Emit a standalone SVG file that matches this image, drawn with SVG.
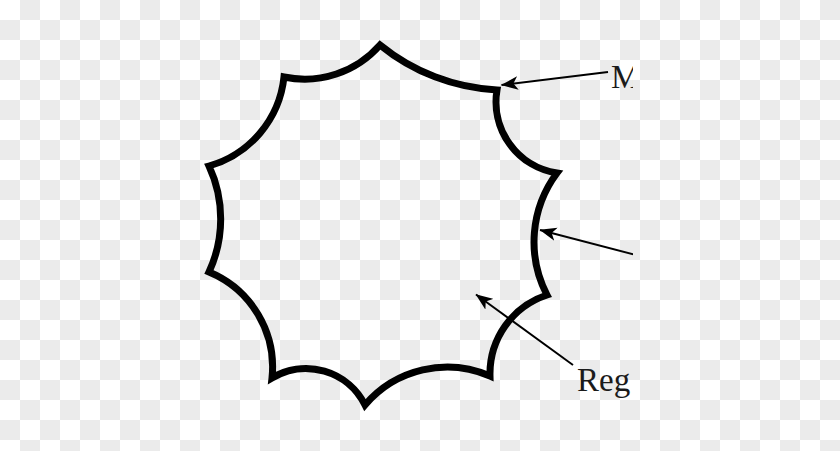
<svg xmlns="http://www.w3.org/2000/svg" width="840" height="451" viewBox="0 0 840 451">
  <defs>
    <pattern id="checker" x="0" y="0" width="40" height="40" patternUnits="userSpaceOnUse">
      <rect x="0" y="0" width="40" height="40" fill="#ffffff"/>
      <rect x="20" y="0" width="20" height="20" fill="#ebebeb"/>
      <rect x="0" y="20" width="20" height="20" fill="#ebebeb"/>
    </pattern>
    <marker id="tip" viewBox="0 0 17 14" refX="16.5" refY="7" markerWidth="17" markerHeight="14" markerUnits="userSpaceOnUse" orient="auto">
      <path d="M17,7 L0,0.3 L4.5,7 L0,13.7 Z" fill="#000"/>
    </marker>
    <clipPath id="clip">
      <rect x="0" y="0" width="633" height="451"/>
    </clipPath>
  </defs>
  <style>
    .outline { fill: none; stroke: #000; stroke-width: 7; stroke-linejoin: miter; stroke-miterlimit: 10; }
    .conn { fill: none; stroke: #000; stroke-width: 1.9; marker-end: url(#tip); }
    .label { font-family: "Liberation Serif", "DejaVu Serif", serif; font-size: 33px; fill: #1a1a1a; }
  </style>
  <rect x="0" y="0" width="840" height="451" fill="url(#checker)"/>
  <g id="region">
    <path class="outline" d="M 380 45 A 201 201 0 0 0 497 90 A 72 72 0 0 0 557 173 A 115 115 0 0 0 547 295 A 83 83 0 0 0 490 376 A 108 108 0 0 0 365 405 A 66 66 0 0 0 272 378 A 103 103 0 0 0 209 272 A 126 126 0 0 0 209 166 A 104 104 0 0 0 284 77 A 100 100 0 0 0 380 45 Z"/>
  </g>
  <g id="connectors" clip-path="url(#clip)">
    <line class="conn" x1="608" y1="72" x2="501.5" y2="85"/>
    <line class="conn" x1="640" y1="256" x2="540" y2="230"/>
    <line class="conn" x1="573" y1="365" x2="476" y2="294.5"/>
  </g>
  <g id="label-m" clip-path="url(#clip)">
    <text class="label" x="611" y="88">M</text>
  </g>
  <g id="label-reg" clip-path="url(#clip)">
    <text class="label" x="577" y="391">Reg</text>
  </g>
</svg>
